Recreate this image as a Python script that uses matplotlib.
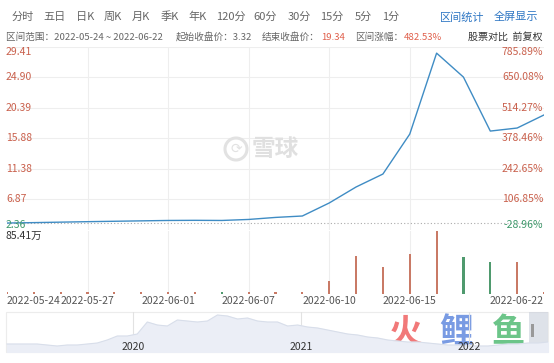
import numpy as np
import matplotlib
matplotlib.use("Agg")
import matplotlib.pyplot as plt
from matplotlib.patches import Circle, Rectangle

plt.rcParams['font.family'] = ['Noto Sans CJK SC', 'DejaVu Sans']

# ---------------- data ----------------
dates = ['2022-05-24', '2022-05-25', '2022-05-26', '2022-05-27', '2022-05-30', '2022-05-31',
         '2022-06-01', '2022-06-02', '2022-06-06', '2022-06-07', '2022-06-08', '2022-06-09',
         '2022-06-10', '2022-06-13', '2022-06-14', '2022-06-15', '2022-06-16', '2022-06-17',
         '2022-06-20', '2022-06-21', '2022-06-22']
close = [3.32, 3.38, 3.45, 3.52, 3.58, 3.64, 3.70, 3.72, 3.70, 3.85, 4.15, 4.36,
         6.29, 8.66, 10.58, 16.50, 28.50, 24.95, 16.95, 17.40, 19.34]
volume = [2.6, 2.6, 2.6, 2.6, 2.6, 2.6, 2.6, 2.6, 2.6, 2.6, 2.6, 2.6,
          17.9, 51.7, 36.8, 53.6, 85.41, 49.5, 42.8, 43.6, 2.6]   # 万
price_ticks = [29.41, 24.90, 20.39, 15.88, 11.38, 6.87, 2.36]
pct_ticks = ['785.89%', '650.08%', '514.27%', '378.46%', '242.65%', '106.85%', '-28.96%']
label_dates = ['2022-05-24', '2022-05-27', '2022-06-01', '2022-06-07', '2022-06-10', '2022-06-15', '2022-06-22']
start_price = 3.32
vol_max = 85.41

tabs = ['分时', '五日', '日K', '周K', '月K', '季K', '年K', '120分', '60分', '30分', '15分', '5分', '1分']

# navigator overview (relative heights, sampled evenly from 2019.25 to 2022.47)
nav_values = [8, 8, 8, 8, 7, 6, 7, 7, 8, 9, 12, 16, 16, 18, 30, 27, 26, 32, 31, 30,
              31, 37, 36, 33, 34, 31, 30, 30, 26, 27, 25, 24, 22, 20, 18, 17, 15, 14,
              12, 11, 10, 10, 9, 8, 7, 7, 6, 6, 6, 7, 8, 8, 9, 9, 10]
nav_years = [2020, 2021, 2022]

# ---------------- figure ----------------
W, H = 554, 363
fig = plt.figure(figsize=(W / 100, H / 100), dpi=100)
fig.patch.set_facecolor('white')


def box(x0, y0, x1, y1):
    return [x0 / W, 1 - y1 / H, (x1 - x0) / W, (y1 - y0) / H]


RED = '#c9604c'
GREEN = '#3f9a6c'
GRID = '#eeeeee'
LINE = '#3f8cc4'

n = len(dates)
xs = np.arange(n)
label_idx = [dates.index(d) for d in label_dates]

# ---- main price axes ----
ax = fig.add_axes(box(7, 47, 544, 229.5))
ax.set_xlim(0, n - 1)
ax.set_ylim(price_ticks[-1], price_ticks[0])
ax.axis('off')
for v in price_ticks[:-1]:
    ax.axhline(v, color=GRID, lw=0.8, zorder=0)
for i in label_idx[1:-1]:
    ax.axvline(i, color=GRID, lw=0.8, zorder=0)
ax.plot([0, n - 1], [start_price, start_price], color='#aaaaaa', lw=0.8,
        ls=(0, (1, 2)), zorder=1)
ax.plot(xs, close, color=LINE, lw=1.0, zorder=3)

tl = ax.get_yaxis_transform()
for k, (v, p) in enumerate(zip(price_ticks, pct_ticks)):
    va = 'top' if k == 0 else ('bottom' if k == len(price_ticks) - 1 else 'center')
    lc = GREEN if v < start_price else RED
    ax.text(-0.002, v, f'{v:.2f}', transform=tl, ha='left', va=va, fontsize=7.5,
            color=lc, zorder=4)
    ax.text(0.999, v, p, transform=tl, ha='right', va=va, fontsize=7.5,
            color=lc, zorder=4)

# ---- volume axes ----
axv = fig.add_axes(box(7, 230.5, 544, 294))
axv.set_xlim(0, n - 1)
axv.set_ylim(0, vol_max)
axv.axis('off')
for i in label_idx[1:-1]:
    axv.axvline(i, color=GRID, lw=0.8, zorder=0)
vcol = []
for i in range(n):
    up = i == 0 or close[i] >= close[i - 1]
    vcol.append('#c97a66' if up else '#4f9a6e')
axv.bar(xs, volume, width=0.08, color=vcol, zorder=2)
axv.text(-0.002, 1.0, f'{vol_max:.2f}万', transform=axv.transAxes, ha='left',
         va='top', fontsize=7.5, color='#333333')

# ---- overlay for texts (pixel coords) ----
ov = fig.add_axes([0, 0, 1, 1])
ov.set_xlim(0, W)
ov.set_ylim(H, 0)
ov.axis('off')
ov.patch.set_alpha(0)

# x date labels
for j, (d, i) in enumerate(zip(label_dates, label_idx)):
    px = 7 + i * (537 / (n - 1))
    ha = 'left' if j == 0 else ('right' if j == len(label_dates) - 1 else 'center')
    ov.text(px, 301, d, ha=ha, va='center', fontsize=7.5, color='#555555')

# header tabs
tab_x = [23, 54, 85, 113, 141, 170, 198, 231, 265, 299, 332, 363, 391]
for t, x in zip(tabs, tab_x):
    ov.text(x, 17, t, ha='center', va='center', fontsize=8, color='#666666')
ov.text(462, 17, '区间统计', ha='center', va='center', fontsize=8, color='#2f77c4')
ov.text(516, 17, '全屏显示', ha='center', va='center', fontsize=8, color='#2f77c4')

# info row
fs2 = 6.9
gray = '#666666'
ov.text(6, 37, f'区间范围：{dates[0]} ~ {dates[-1]}', ha='left', va='center', fontsize=fs2, color=gray)
ov.text(176, 37, f'起始收盘价：{start_price:.2f}', ha='left', va='center', fontsize=fs2, color=gray)
ov.text(262, 37, '结束收盘价：', ha='left', va='center', fontsize=fs2, color=gray)
ov.text(321, 37, f'{close[-1]:.2f}', ha='left', va='center', fontsize=fs2, color='#e0604c')
chg = (close[-1] / start_price - 1) * 100
ov.text(355, 37, '区间涨幅：', ha='left', va='center', fontsize=fs2, color=gray)
ov.text(404, 37, f'{chg:.2f}%', ha='left', va='center', fontsize=fs2, color='#e0604c')
ov.text(542, 37, '股票对比  前复权', ha='right', va='center', fontsize=7.2, color='#333333')

# watermark 雪球
ov.add_patch(Circle((236, 149), 11, fill=False, ec='#e2e2e2', lw=2.2))
ov.text(236, 149, '⟳', ha='center', va='center', fontsize=10, color='#e2e2e2', family=['DejaVu Sans'])
ov.text(275, 149, '雪球', ha='center', va='center', fontsize=17, color='#e0e0e0', weight='bold')

# ---- navigator ----
axn = fig.add_axes(box(6, 312, 548, 352))
y0, y1 = 2019.25, 2022.47
nx = np.linspace(y0, y1, len(nav_values))
axn.set_xlim(2019.244, 2022.47)
axn.set_ylim(0, 40)
axn.axis('off')
axn.fill_between(nx, nav_values, 0, color='#ebeef6', zorder=1)
axn.plot(nx, nav_values, color='#d8deea', lw=0.8, zorder=2)
for yr in nav_years:
    axn.axvline(yr, color='#e2e2e2', lw=0.8, zorder=0)
    axn.text(yr, 5, str(yr), ha='center', va='center', fontsize=7.5, color='#333333', zorder=3)
ov.add_patch(Rectangle((6, 312), 542, 40, fill=False, ec='#ececec', lw=0.8))
ov.add_patch(Rectangle((529, 312), 19, 40, fc='#c9cfdb', alpha=0.6, ec='none'))
ov.add_patch(Rectangle((531, 324), 3, 13, fc='#999999', ec='none'))

# 火鲤鱼 watermark
ov.text(405, 333, '火', ha='center', va='center', fontsize=24, color='#f06a6a', weight='bold', alpha=0.9)
ov.text(456, 333, '鲤', ha='center', va='center', fontsize=24, color='#6a90e0', weight='bold', alpha=0.9)
ov.text(509, 333, '鱼', ha='center', va='center', fontsize=24, color='#5cbf7c', weight='bold', alpha=0.9)

fig.savefig('out.png', dpi=100, facecolor='white')
